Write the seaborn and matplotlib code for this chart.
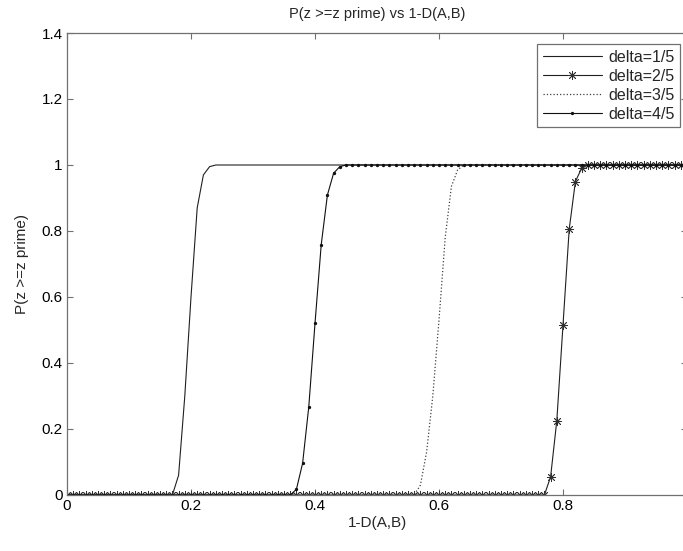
import numpy as np
import pandas as pd
import matplotlib
matplotlib.use("Agg")
import matplotlib.pyplot as plt
import seaborn as sns
from matplotlib.ticker import FuncFormatter

# ---- data ----
x_grid = [round(i * 0.01, 2) for i in range(101)]  # 1-D(A,B) sample points

delta_1_5 = [0.0] * 17 + [0.0, 0.06, 0.30, 0.60, 0.87, 0.97, 0.995] + [1.0] * 77
delta_2_5 = [0.0] * 77 + [0.0, 0.055, 0.225, 0.515, 0.805, 0.95, 0.99] + [1.0] * 17
delta_3_5 = [0.0] * 56 + [0.0, 0.03, 0.13, 0.30, 0.53, 0.78, 0.935, 0.985] + [1.0] * 37
delta_4_5 = [0.0] * 36 + [0.0, 0.017, 0.096, 0.268, 0.52, 0.758, 0.909, 0.975, 0.995] + [1.0] * 56

labels = ["delta=1/5", "delta=2/5", "delta=3/5", "delta=4/5"]
series = [delta_1_5, delta_2_5, delta_3_5, delta_4_5]

title = "P(z >=z prime) vs 1-D(A,B)"
xlabel = "1-D(A,B)"
ylabel = "P(z >=z prime)"
xticks = [0, 0.2, 0.4, 0.6, 0.8, 1.0]
yticks = [0, 0.2, 0.4, 0.6, 0.8, 1.0, 1.2, 1.4]

# ---- styling ----
sns.set_theme(style="white")
plt.rcParams["font.family"] = ["Liberation Sans", "DejaVu Sans"]

fig = plt.figure(figsize=(6.83, 5.51), dpi=100)
W, H = 683, 551
left, right, top, bottom = 67, 687, 33, 495
ax = fig.add_axes([left / W, 1 - bottom / H, (right - left) / W, (bottom - top) / H])

styles = [
    dict(linestyle="-", marker=None, color="#202020", linewidth=0.8),
    dict(linestyle="-", marker=(8, 2, 0), markersize=6.5, markeredgewidth=0.6,
         markeredgecolor="#303030", markerfacecolor="#303030",
         color="#202020", linewidth=0.8),
    dict(linestyle=":", marker=None, color="#404040", linewidth=0.9),
    dict(linestyle="-", marker="o", markersize=2.4, markeredgewidth=0,
         markerfacecolor="#101010", color="#101010", linewidth=0.8),
]

for lab, ys, st in zip(labels, series, styles):
    df = pd.DataFrame({"x": x_grid, "y": ys})
    sns.lineplot(data=df, x="x", y="y", ax=ax, label=lab, sort=False,
                 estimator=None, **st)

ax.set_xlim(0, 1)
ax.set_ylim(0, 1.4)
ax.set_xticks(xticks)
ax.set_yticks(yticks)
fmt = FuncFormatter(lambda v, p: f"{v:g}")
ax.xaxis.set_major_formatter(fmt)
ax.yaxis.set_major_formatter(fmt)
ax.tick_params(direction="in", length=4, width=0.8, color="#707070",
               labelsize=11, labelcolor="black", top=True, right=True,
               bottom=True, left=True, pad=3)
for sp in ax.spines.values():
    sp.set_color("#707070")
    sp.set_linewidth(0.9)
    sp.set_visible(True)

ax.set_title(title, fontsize=10.5, pad=11)
ax.set_xlabel(xlabel, fontsize=11, labelpad=2)
ax.set_ylabel(ylabel, fontsize=11, labelpad=9)

leg = ax.legend(loc="upper right", bbox_to_anchor=(680 / W, 1 - 44 / H),
                bbox_transform=fig.transFigure, borderaxespad=0,
                fancybox=False, framealpha=1, edgecolor="#707070",
                fontsize=11.5, handlelength=3.7, labelspacing=0.25,
                handletextpad=0.4, borderpad=0.35)
leg.get_frame().set_linewidth(0.9)

fig.savefig("out.png", dpi=100, facecolor="white")
